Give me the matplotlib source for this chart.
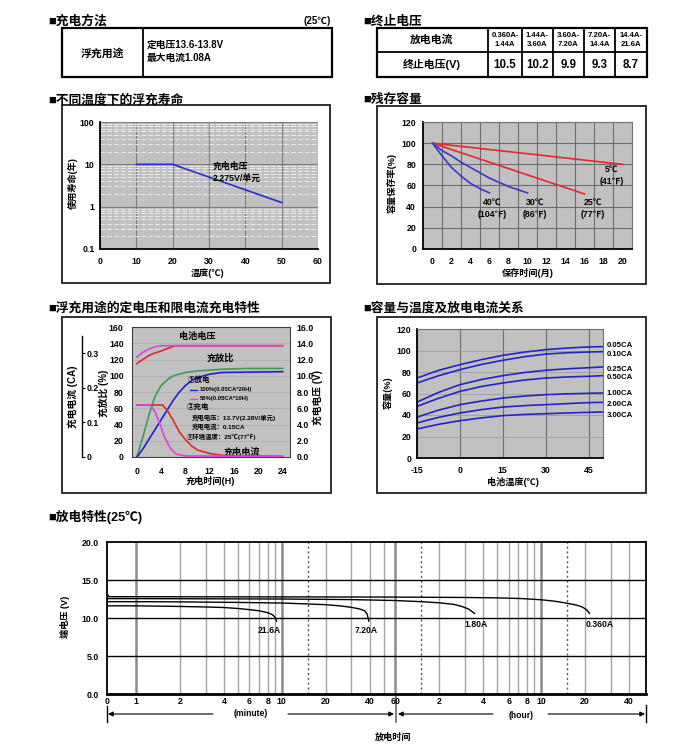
import numpy as np
import matplotlib
matplotlib.use('Agg')
import matplotlib.pyplot as plt
from matplotlib.patches import Rectangle
from matplotlib.ticker import LogLocator, NullFormatter, FixedLocator

plt.rcParams['font.family'] = ['Liberation Sans', 'Noto Sans CJK SC', 'DejaVu Sans']
plt.rcParams['font.weight'] = 'bold'
plt.rcParams['axes.unicode_minus'] = False

W, H = 700, 753

# ---------------- data ----------------
charge_mode = '浮充用途'
charge_lines = ['定电压13.6-13.8V', '最大电流1.08A']

cutoff_currents = ['0.360A-\n1.44A', '1.44A-\n3.60A', '3.60A-\n7.20A', '7.20A-\n14.4A', '14.4A-\n21.6A']
cutoff_volts = [10.5, 10.2, 9.9, 9.3, 8.7]

# float life vs temperature
life_temp = [10, 20, 50]
life_years = [10, 10, 1.25]

# residual capacity vs storage time
store_5_m = [0, 20]
store_5_c = [100, 80]
store_25_m = [0, 16]
store_25_c = [100, 52]
store_30_m = [0, 1, 2, 3, 4, 5, 6, 7, 8, 9, 10]
store_30_c = [100, 93, 88, 82, 77, 72, 67, 63, 59, 56, 53]
store_40_m = [0, 1, 2, 3, 4, 5, 6]
store_40_c = [100, 88, 77, 69, 62, 57, 53]

# charging characteristics
volt_red_t = [0, 1, 2, 3, 4, 5, 6.3, 24]
volt_red_v = [11.5, 12.0, 12.5, 12.8, 13.05, 13.35, 13.7, 13.7]
volt_mag_t = [0, 1, 2, 3, 4, 24]
volt_mag_v = [12.3, 12.9, 13.3, 13.55, 13.7, 13.7]
ratio_green_t = [0, 1, 2, 3, 4, 5, 6, 8, 10, 14, 18, 24]
ratio_green = [0, 25, 52, 75, 88, 95, 100, 104, 106, 108, 109, 109]
ratio_blue_t = [0, 1, 2, 3, 4, 5, 6, 7, 8, 9, 10, 12, 14, 24]
ratio_blue = [0, 10, 22, 34, 46, 58, 70, 80, 88, 94, 98, 102, 104, 105]
curr_red_t = [0, 4.2, 5, 6, 7, 8, 9, 10, 12, 14, 16, 24]
curr_red = [0.15, 0.15, 0.135, 0.105, 0.072, 0.05, 0.032, 0.02, 0.01, 0.005, 0.003, 0.002]
curr_mag_t = [0, 2.2, 3, 3.7, 4.5, 5.5, 6.5, 8, 24]
curr_mag = [0.15, 0.15, 0.13, 0.10, 0.06, 0.025, 0.008, 0.003, 0.002]

# capacity vs temperature and discharge current
cap_temp = [-15, -7.5, 0, 7.5, 15, 22.5, 30, 37.5, 45, 50]
cap_labels = ['0.05CA', '0.10CA', '0.25CA', '0.50CA', '1.00CA', '2.00CA', '3.00CA']
cap_005 = [74.4, 81.5, 86.8, 91.5, 95.5, 98.5, 100.8, 102.3, 103.3, 103.6]
cap_010 = [69.8, 76.5, 82.2, 87.0, 90.9, 94.2, 96.7, 97.9, 98.6, 98.9]
cap_025 = [52.0, 61.0, 68.2, 73.0, 76.6, 79.5, 81.6, 83.0, 84.0, 84.7]
cap_050 = [48.0, 55.5, 62.0, 66.5, 69.8, 72.5, 74.4, 75.4, 76.0, 76.6]
cap_100 = [38.0, 44.5, 49.6, 53.0, 55.8, 57.6, 58.9, 59.7, 60.2, 60.5]
cap_200 = [32.6, 37.8, 41.9, 45.0, 47.4, 48.7, 49.6, 50.6, 51.5, 51.8]
cap_300 = [27.0, 31.3, 34.7, 37.3, 39.4, 40.5, 41.2, 41.9, 42.5, 42.8]

# discharge curves (time in minutes)
dis_216_t = [0.632, 1, 2, 3, 4, 5, 6, 7, 8, 8.6, 9.0, 9.2]
dis_216_v = [11.6, 11.6, 11.52, 11.45, 11.38, 11.25, 11.1, 10.95, 10.7, 10.45, 10.1, 9.6]
dis_720_t = [0.632, 1, 2, 5, 10, 15, 20, 25, 30, 34, 37, 38.5, 39.5]
dis_720_v = [12.15, 12.15, 12.12, 12.05, 11.97, 11.85, 11.75, 11.6, 11.4, 11.2, 10.95, 10.5, 9.6]
dis_180_t = [0.632, 1, 10, 30, 60, 90, 120, 150, 170, 190, 200, 210]
dis_180_v = [12.55, 12.55, 12.5, 12.42, 12.3, 12.15, 12.0, 11.8, 11.55, 11.2, 10.9, 10.6]
dis_036_t = [0.632, 0.65, 1, 10, 60, 180, 300, 450, 600, 750, 900, 1050, 1150, 1230, 1290]
dis_036_v = [13.2, 12.8, 12.8, 12.78, 12.75, 12.7, 12.65, 12.55, 12.4, 12.2, 11.95, 11.7, 11.45, 11.1, 10.6]
dis_ticks = [0.632, 1, 2, 4, 6, 8, 10, 20, 40, 60, 120, 240, 360, 480, 600, 1200, 2400]
dis_ticklabels = ['0', '1', '2', '4', '6', '8', '10', '20', '40', '60', '2', '4', '6', '8', '10', '20', '40']
grid_thin = [2, 3, 4, 5, 6, 7, 8, 9, 20, 30, 40, 50, 120, 180, 240, 300, 360, 420, 480, 540, 1200, 1800, 2400]
grid_thick = [1, 10, 60, 600]
grid_dot = [15, 90, 900]


def box(x0, y0, x1, y1):
    return [x0 / W, 1 - y1 / H, (x1 - x0) / W, (y1 - y0) / H]


fig = plt.figure(figsize=(7, 7.53), dpi=100)
bg = fig.add_axes([0, 0, 1, 1])
bg.set_xlim(0, W)
bg.set_ylim(H, 0)
bg.axis('off')

GRAY = '#c1c1c1'
TS = 6.3     # tick labels
LS = 6.6     # axis labels
TT = 9.2     # section titles

# ---------------- tables ----------------
bg.text(48, 21, '■充电方法', fontsize=TT, va='center', ha='left')
bg.text(331, 21, '(25℃)', fontsize=7, va='center', ha='right')
bg.add_patch(Rectangle((62, 28), 270, 49, fill=False, lw=1.6, ec='k'))
bg.plot([143, 143], [28, 77], color='k', lw=1.3)
bg.text(102, 53, charge_mode, fontsize=7.8, ha='center', va='center')
for i, s in enumerate(charge_lines):
    bg.text(147, 45 + i * 12.5, s, fontsize=7, ha='left', va='center')

bg.text(363, 21, '■终止电压', fontsize=TT, va='center', ha='left')
bg.add_patch(Rectangle((377, 28), 270, 49, fill=False, lw=1.6, ec='k'))
bg.plot([377, 647], [52, 52], color='k', lw=1.3)
col_x = [488, 522, 553, 584, 615, 647]
for x in col_x[:-1]:
    bg.plot([x, x], [28, 77], color='k', lw=1.3)
bg.text(432, 40, '放电电流', fontsize=7.8, ha='center', va='center')
bg.text(432, 64, '终止电压(V)', fontsize=7.8, ha='center', va='center')
for i, (lab, v) in enumerate(zip(cutoff_currents, cutoff_volts)):
    cx = (col_x[i] + col_x[i + 1]) / 2
    bg.text(cx, 40, lab, fontsize=5.6, ha='center', va='center', linespacing=1.45)
    bg.text(cx, 64.5, f'{v}', fontsize=8.3, ha='center', va='center')

# frames + titles of the four small charts
for (x0, y0, x1, y1) in [(62, 105, 330, 283), (377, 106, 646, 284), (62, 317, 331, 493), (377, 317, 646, 493)]:
    bg.add_patch(Rectangle((x0, y0), x1 - x0, y1 - y0, fill=False, lw=1.3, ec='#202020'))
bg.text(48, 100, '■不同温度下的浮充寿命', fontsize=TT, va='center')
bg.text(363, 100, '■残存容量', fontsize=TT, va='center')
bg.text(48, 308, '■浮充用途的定电压和限电流充电特性', fontsize=TT, va='center')
bg.text(363, 308, '■容量与温度及放电电流关系', fontsize=TT, va='center')
bg.text(48, 517, '■放电特性(25℃)', fontsize=TT, va='center')

# ---------------- float life ----------------
ax1 = fig.add_axes(box(100, 122, 318, 249))
ax1.set_facecolor(GRAY)
ax1.set_yscale('log')
ax1.set_xlim(0, 60)
ax1.set_ylim(0.1, 100)
ax1.set_xticks(range(0, 61, 10))
ax1.set_yticks([0.1, 1, 10, 100])
ax1.set_yticklabels(['0.1', '1', '10', '100'])
ax1.yaxis.set_minor_locator(LogLocator(subs=range(2, 10)))
ax1.yaxis.set_minor_formatter(NullFormatter())
ax1.grid(which='major', color='#7c7c7c', lw=0.8)
ax1.grid(which='minor', axis='y', color='#ececec', lw=0.7, ls=(0, (5, 2)))
ax1.set_axisbelow(True)
ax1.tick_params(which='both', length=0, labelsize=TS)
ax1.tick_params(axis='y', pad=4)
ax1.tick_params(axis='x', pad=6)
for s in ['top', 'right']:
    ax1.spines[s].set_visible(False)
for s in ['left', 'bottom']:
    ax1.spines[s].set_linewidth(1.3)
ax1.plot(life_temp, life_years, color='#2b2bd6', lw=1.2)
ax1.text(31, 6.6, '充电电压\n2.275V/单元', fontsize=6.4, va='center', linespacing=1.4)
bg.text(73, 183, '使用寿命(年)', rotation=90, fontsize=LS, ha='center', va='center')
bg.text(208, 273, '温度(℃)', fontsize=LS, ha='center', va='center')

# ---------------- residual capacity ----------------
ax2 = fig.add_axes(box(423, 122, 632, 249))
ax2.set_facecolor(GRAY)
ax2.set_xlim(-1, 21)
ax2.set_ylim(0, 120)
ax2.set_xticks(range(0, 21, 2))
ax2.set_yticks(range(0, 121, 20))
ax2.xaxis.set_minor_locator(FixedLocator(range(1, 20, 2)))
ax2.grid(which='minor', axis='x', color='#6c6c6c', lw=0.8)
ax2.grid(which='major', axis='y', color='#6c6c6c', lw=0.8)
ax2.set_axisbelow(True)
ax2.tick_params(which='both', length=0, labelsize=TS)
ax2.tick_params(axis='y', pad=5)
ax2.tick_params(axis='x', pad=6)
for s in ['top', 'right']:
    ax2.spines[s].set_color('#707070')
for s in ['left', 'bottom']:
    ax2.spines[s].set_linewidth(1.3)
ax2.plot(store_5_m, store_5_c, color='#e8262a', lw=1.2)
ax2.plot(store_25_m, store_25_c, color='#e8262a', lw=1.2)
ax2.plot(store_30_m, store_30_c, color='#3a3ac8', lw=1.2)
ax2.plot(store_40_m, store_40_c, color='#3a3ac8', lw=1.2)
for x, y, s in [(6.3, 38, '40℃\n(104℉)'), (10.8, 38, '30℃\n(86℉)'),
                (16.9, 38, '25℃\n(77℉)'), (18.9, 69, '5℃\n(41℉)')]:
    ax2.text(x, y, s, fontsize=6.3, ha='center', va='center', linespacing=1.35)
bg.text(392, 183, '容量保存率(%)', rotation=90, fontsize=LS, ha='center', va='center')
bg.text(528, 273, '保存时间(月)', fontsize=LS, ha='center', va='center')

# ---------------- charging characteristics ----------------
ax3 = fig.add_axes(box(132, 327, 290, 457))
ax3.set_facecolor(GRAY)
ax3.set_xlim(-0.8, 25.2)
ax3.set_ylim(0, 160)
ax3.set_xticks(range(0, 25, 4))
ax3.set_yticks(range(0, 161, 20))
ax3.grid(axis='y', color='#ababab', lw=0.5)
ax3.set_axisbelow(True)
ax3.tick_params(length=0, labelsize=TS)
ax3.tick_params(axis='y', pad=6)
ax3.tick_params(axis='x', pad=7)
for s in ax3.spines.values():
    s.set_color('#404040')

ax3v = ax3.twinx()
ax3v.set_ylim(0, 16)
ax3v.set_yticks(np.arange(0, 16.1, 2))
ax3v.set_yticklabels([f'{v:.1f}' for v in np.arange(0, 16.1, 2)])
ax3v.tick_params(length=0, labelsize=TS, pad=5)
for s in ax3v.spines.values():
    s.set_visible(False)

ax_ca = ax3.twinx()
ax_ca.set_ylim(0, 0.375)
ax_ca.set_yticks([0, 0.1, 0.2, 0.3])
ax_ca.set_yticklabels(['0', '0.1', '0.2', '0.3'])
for s in ['left', 'top', 'bottom']:
    ax_ca.spines[s].set_visible(False)
ax_ca.spines['right'].set_position(('axes', -0.3165))
ax_ca.spines['right'].set_bounds(0, 0.35)
ax_ca.spines['right'].set_linewidth(1.0)
ax_ca.tick_params(length=2, width=0.8, labelsize=TS, pad=1.5)

ax3v.plot(volt_red_t, volt_red_v, color='#e02828', lw=1.2)
ax3v.plot(volt_mag_t, volt_mag_v, color='#e040e0', lw=1.2)
ax3.plot(ratio_green_t, ratio_green, color='#3c9a5a', lw=1.2)
ax3.plot(ratio_blue_t, ratio_blue, color='#2020d0', lw=1.2)
ax_ca.plot(curr_red_t, curr_red, color='#e02828', lw=1.2)
ax_ca.plot(curr_mag_t, curr_mag, color='#e040e0', lw=1.2)

ax3.text(10, 148, '电池电压', fontsize=6.6, ha='center', va='center')
ax3.text(13.7, 122, '充放比', fontsize=6.6, ha='center', va='center')
ax3.text(17.3, 6, '充电电流', fontsize=6.6, ha='center', va='center', zorder=5)
ax3.text(8.3, 95, '①放电', fontsize=5.4, va='center')
ax3.plot([8.8, 9.9], [82.5, 82.5], color='#2020d0', lw=1)
ax3.text(10.4, 83, '100%(0.05CA*20H)', fontsize=4.2, va='center')
ax3.plot([8.8, 9.9], [72, 72], color='#e040e0', lw=1)
ax3.text(10.4, 72.5, '50%(0.05CA*10H)', fontsize=4.2, va='center')
ax3.text(8.2, 61, '②充电', fontsize=5.4, va='center')
ax3.text(9.1, 49, '充电电压：13.7V(2.28V/单元)', fontsize=4.6, va='center')
ax3.text(9.1, 37, '充电电流：0.15CA', fontsize=4.6, va='center')
ax3.text(8.2, 25, '③环境温度：25℃(77℉)', fontsize=4.6, va='center')

bg.text(73, 397, '充电电流 (CA)', rotation=90, fontsize=7, ha='center', va='center')
bg.text(104, 393, '充放比 (%)', rotation=90, fontsize=7, ha='center', va='center')
bg.text(318, 397, '充电电压 (V)', rotation=90, fontsize=7, ha='center', va='center')
bg.text(210, 481, '充电时间(H)', fontsize=LS, ha='center', va='center')

# ---------------- capacity vs temperature ----------------
ax4 = fig.add_axes(box(417, 329, 603, 458))
ax4.set_facecolor(GRAY)
ax4.set_xlim(-15, 50)
ax4.set_ylim(0, 120)
ax4.set_xticks([-15, 0, 15, 30, 45])
ax4.set_yticks(range(0, 121, 20))
ax4.grid(axis='x', color='#6e6e6e', lw=0.8)
ax4.grid(axis='y', color='#9c9c9c', lw=0.6)
ax4.set_axisbelow(True)
ax4.tick_params(length=0, labelsize=TS)
ax4.tick_params(axis='y', pad=4)
ax4.tick_params(axis='x', pad=6)
for s in ['top', 'right']:
    ax4.spines[s].set_color('#707070')
for s in ['left', 'bottom']:
    ax4.spines[s].set_linewidth(1.3)
cap_series = [cap_005, cap_010, cap_025, cap_050, cap_100, cap_200, cap_300]
for vals in cap_series:
    ax4.plot(cap_temp, vals, color='#2323c8', lw=1.2)
label_y = [345.5, 354, 369, 377.5, 393, 404, 415]
for lab, y in zip(cap_labels, label_y):
    bg.text(607, y, lab, fontsize=5.6, ha='left', va='center')
bg.text(388, 393, '容量(%)', rotation=90, fontsize=LS, ha='center', va='center')
bg.text(513, 482, '电池温度(℃)', fontsize=LS, ha='center', va='center')

# ---------------- discharge characteristics ----------------
ax5 = fig.add_axes(box(107, 542, 646, 694))
ax5.set_xscale('log')
ax5.set_xlim(0.632, 3148)
ax5.set_ylim(0, 20)
ax5.set_yticks(np.arange(0, 20.1, 5))
ax5.set_yticklabels([f'{v:.1f}' for v in np.arange(0, 20.1, 5)])
ax5.xaxis.set_minor_locator(FixedLocator([]))
ax5.set_xticks(dis_ticks)
ax5.set_xticklabels(dis_ticklabels)
ax5.tick_params(which='both', length=0, labelsize=TS)
ax5.tick_params(axis='y', pad=6)
ax5.tick_params(axis='x', pad=2)
for x in grid_thin:
    ax5.axvline(x, color='#a4a4a4', lw=1.0, zorder=1)
for x in grid_thick:
    ax5.axvline(x, color='#8c8c8c', lw=1.8, zorder=1)
for x in grid_dot:
    ax5.axvline(x, color='#555555', lw=1.0, ls=(0, (1.5, 2)), zorder=1)
for y in [5, 10, 15]:
    ax5.axhline(y, color='k', lw=1.0, zorder=2)
for s in ax5.spines.values():
    s.set_linewidth(1.3)
ax5.spines['bottom'].set_linewidth(2)
for t, v in [(dis_216_t, dis_216_v), (dis_720_t, dis_720_v), (dis_180_t, dis_180_v), (dis_036_t, dis_036_v)]:
    ax5.plot(t, v, color='k', lw=1.0, zorder=3)
for x, y, s in [(8.17, 8.3, '21.6A'), (37.8, 8.3, '7.20A'), (215, 9.2, '1.80A'), (1520, 9.2, '0.360A')]:
    ax5.text(x, y, s, fontsize=6.2, ha='center', va='center')

# time-axis arrows
bg.plot([107, 107], [706, 722], color='k', lw=1)
bg.plot([396, 396], [694, 722], color='#666666', lw=1.2)
bg.plot([646, 646], [705, 722], color='k', lw=1)
arrow = dict(arrowstyle='-|>', color='k', lw=0.8, mutation_scale=7, shrinkA=0, shrinkB=0)
bg.annotate('', xy=(108, 714), xytext=(213, 714), arrowprops=arrow)
bg.annotate('', xy=(394, 714), xytext=(288, 714), arrowprops=arrow)
bg.annotate('', xy=(398, 714), xytext=(493, 714), arrowprops=arrow)
bg.annotate('', xy=(645, 714), xytext=(548, 714), arrowprops=arrow)
bg.text(251, 713, '(minute)', fontsize=6.2, ha='center', va='center')
bg.text(521, 715, '(hour)', fontsize=6.2, ha='center', va='center')
bg.text(393, 737, '放电时间', fontsize=LS, ha='center', va='center')
bg.text(65, 617, '端电压 (V)', rotation=90, fontsize=LS, ha='center', va='center')

fig.savefig('out.png', dpi=100)
